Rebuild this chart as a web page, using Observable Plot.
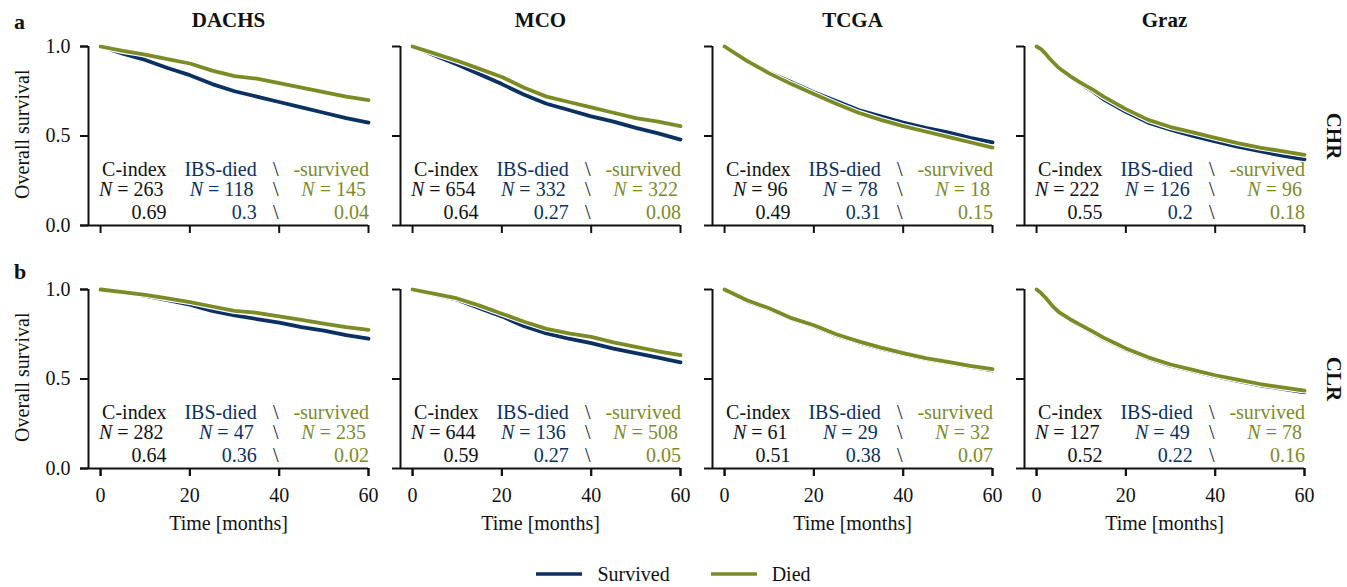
<!DOCTYPE html>
<html><head><meta charset="utf-8">
<script src="https://cdn.jsdelivr.net/npm/d3@7"></script>
<script src="https://cdn.jsdelivr.net/npm/@observablehq/plot@0.6"></script>
<style>
html,body{margin:0;padding:0;background:#fff;}
#wrap{position:relative;width:1347px;height:587px;font-family:'Liberation Serif','Times New Roman',serif;background:#fff;}
#chart svg{font-family:'Liberation Serif','Times New Roman',serif !important;}
#legend{position:absolute;left:0;top:556px;width:1347px;height:36px;display:flex;justify-content:center;align-items:center;font-size:20px;color:#111;}
#legend .sw{width:46px;height:4px;margin-right:15px;}
#legend .lab{margin-right:41px;}
#legend .lab:last-child{margin-right:0;}
</style></head><body><div id="wrap"><div id="chart"></div><div id="legend"></div></div>
<script>
// ---- categories ----
const datasets = ["DACHS", "MCO", "TCGA", "Graz"];
const cohorts = ["CHR", "CLR"];
const groups = ["Survived", "Died"];
const xTicks = [0, 20, 40, 60];
const yTicks = [0, 0.5, 1];

// ---- time points (months) ----
const months = [0, 5, 10, 15, 20, 25, 30, 35, 40, 45, 50, 55, 60];
const monthsGraz = [0, 1, 2, 3, 4, 5, 7.5, 10, 12.5, 15, 17.5, 20, 25, 30, 35, 40, 45, 50, 55, 60];

// ---- survival curves ----
const dachsChrSurvived = [1.0, 0.96, 0.925, 0.88, 0.84, 0.79, 0.75, 0.72, 0.69, 0.66, 0.63, 0.60, 0.575];
const dachsChrDied     = [1.0, 0.975, 0.955, 0.93, 0.905, 0.865, 0.835, 0.82, 0.795, 0.77, 0.745, 0.72, 0.70];
const mcoChrSurvived   = [1.0, 0.95, 0.90, 0.845, 0.79, 0.73, 0.68, 0.645, 0.61, 0.58, 0.545, 0.515, 0.48];
const mcoChrDied       = [1.0, 0.96, 0.92, 0.875, 0.83, 0.77, 0.72, 0.69, 0.66, 0.63, 0.60, 0.58, 0.555];
const tcgaChrSurvived  = [1.0, 0.92, 0.855, 0.80, 0.745, 0.695, 0.645, 0.61, 0.575, 0.545, 0.52, 0.49, 0.465];
const tcgaChrDied      = [1.0, 0.92, 0.85, 0.79, 0.735, 0.68, 0.63, 0.59, 0.555, 0.525, 0.495, 0.465, 0.435];
const grazChrSurvived  = [1.0, 0.985, 0.96, 0.93, 0.90, 0.875, 0.83, 0.79, 0.75, 0.705, 0.67, 0.635, 0.575, 0.535, 0.50, 0.47, 0.44, 0.415, 0.39, 0.37];
const grazChrDied      = [1.0, 0.985, 0.96, 0.93, 0.905, 0.88, 0.835, 0.795, 0.76, 0.72, 0.685, 0.65, 0.59, 0.55, 0.52, 0.49, 0.46, 0.435, 0.415, 0.395];
const dachsClrSurvived = [1.0, 0.985, 0.965, 0.94, 0.915, 0.88, 0.855, 0.835, 0.815, 0.79, 0.77, 0.745, 0.725];
const dachsClrDied     = [1.0, 0.985, 0.97, 0.95, 0.93, 0.905, 0.88, 0.87, 0.85, 0.83, 0.81, 0.79, 0.775];
const mcoClrSurvived   = [1.0, 0.97, 0.943, 0.895, 0.85, 0.795, 0.755, 0.725, 0.70, 0.67, 0.645, 0.62, 0.593];
const mcoClrDied       = [1.0, 0.975, 0.95, 0.91, 0.865, 0.82, 0.78, 0.755, 0.735, 0.705, 0.68, 0.655, 0.633];
const tcgaClrSurvived  = [1.0, 0.935, 0.89, 0.835, 0.795, 0.745, 0.705, 0.67, 0.64, 0.612, 0.59, 0.568, 0.548];
const tcgaClrDied      = [1.0, 0.94, 0.895, 0.84, 0.80, 0.75, 0.71, 0.675, 0.645, 0.617, 0.595, 0.573, 0.555];
const grazClrSurvived  = [1.0, 0.98, 0.955, 0.925, 0.895, 0.87, 0.83, 0.795, 0.76, 0.725, 0.695, 0.665, 0.615, 0.575, 0.545, 0.515, 0.49, 0.465, 0.445, 0.425];
const grazClrDied      = [1.0, 0.98, 0.955, 0.925, 0.897, 0.873, 0.834, 0.80, 0.766, 0.731, 0.701, 0.671, 0.621, 0.581, 0.551, 0.521, 0.497, 0.472, 0.453, 0.435];

// ---- annotation values (per dataset, in order of `datasets`) ----
const nTotalCHR  = [263, 654, 96, 222];
const nDiedCHR   = [118, 332, 78, 126];
const nSurvCHR   = [145, 322, 18, 96];
const cIndexCHR  = [0.69, 0.64, 0.49, 0.55];
const ibsDiedCHR = [0.3, 0.27, 0.31, 0.2];
const ibsSurvCHR = [0.04, 0.08, 0.15, 0.18];
const nTotalCLR  = [282, 644, 61, 127];
const nDiedCLR   = [47, 136, 29, 49];
const nSurvCLR   = [235, 508, 32, 78];
const cIndexCLR  = [0.64, 0.59, 0.51, 0.52];
const ibsDiedCLR = [0.36, 0.27, 0.38, 0.22];
const ibsSurvCLR = [0.02, 0.05, 0.07, 0.16];

const navy = "#0a3161";
const olive = "#7d8b27";
const ink = "#111";
const xMin = -2.7;

// ---- build tables ----
const series = [
  {fx: "DACHS", fy: "CHR", t: months, s: dachsChrSurvived, d: dachsChrDied},
  {fx: "MCO",   fy: "CHR", t: months, s: mcoChrSurvived,   d: mcoChrDied},
  {fx: "TCGA",  fy: "CHR", t: months, s: tcgaChrSurvived,  d: tcgaChrDied},
  {fx: "Graz",  fy: "CHR", t: monthsGraz, s: grazChrSurvived, d: grazChrDied},
  {fx: "DACHS", fy: "CLR", t: months, s: dachsClrSurvived, d: dachsClrDied},
  {fx: "MCO",   fy: "CLR", t: months, s: mcoClrSurvived,   d: mcoClrDied},
  {fx: "TCGA",  fy: "CLR", t: months, s: tcgaClrSurvived,  d: tcgaClrDied},
  {fx: "Graz",  fy: "CLR", t: monthsGraz, s: grazClrSurvived, d: grazClrDied}
];
const curves = series.flatMap(p => p.t.flatMap((m, i) => [
  {fx: p.fx, fy: p.fy, month: m, group: "Survived", value: p.s[i]},
  {fx: p.fx, fy: p.fy, month: m, group: "Died", value: p.d[i]}
]));
const survivedRows = curves.filter(d => d.group === "Survived");
const diedRows = curves.filter(d => d.group === "Died");

const cells = cohorts.flatMap(fy => datasets.map(fx => ({fx, fy})));
const ann = {
  CHR: {nt: nTotalCHR, nd: nDiedCHR, ns: nSurvCHR, ci: cIndexCHR, id: ibsDiedCHR, is: ibsSurvCHR},
  CLR: {nt: nTotalCLR, nd: nDiedCLR, ns: nSurvCLR, ci: cIndexCLR, id: ibsDiedCLR, is: ibsSurvCLR}
};
const colX = [14.78, 34.95, 60.1];
const rowY = [0.3106, 0.1994, 0.0744];
const annEnd = [], annN = [], annSlash = [];
cohorts.forEach(fy => datasets.forEach((fx, j) => {
  const a = ann[fy];
  annEnd.push({fx, fy, x: colX[0], y: rowY[0], text: "C-index", c: ink});
  annEnd.push({fx, fy, x: colX[1], y: rowY[0], text: "IBS-died", c: navy});
  annEnd.push({fx, fy, x: colX[2], y: rowY[0], text: "-survived", c: olive});
  annN.push({fx, fy, x: colX[0], y: rowY[1], text: "N = " + a.nt[j], c: ink});
  annN.push({fx, fy, x: colX[1], y: rowY[1], text: "N = " + a.nd[j], c: navy});
  annN.push({fx, fy, x: colX[2], y: rowY[1], text: "N = " + a.ns[j], c: olive});
  annEnd.push({fx, fy, x: colX[0], y: rowY[2], text: String(a.ci[j]), c: ink});
  annEnd.push({fx, fy, x: colX[1], y: rowY[2], text: String(a.id[j]), c: navy});
  annEnd.push({fx, fy, x: colX[2], y: rowY[2], text: String(a.is[j]), c: olive});
  rowY.forEach(y => annSlash.push({fx, fy, x: 39.25, y, text: "\\"}));
}));

const topCells = cells.filter(d => d.fy === "CHR");
const bottomCells = cells.filter(d => d.fy === "CLR");
const leftCells = cells.filter(d => d.fx === "DACHS");
const rightCells = cells.filter(d => d.fx === "Graz");
const panelLetters = [{fx: "DACHS", fy: "CHR", t: "a", y: 1.136}, {fx: "DACHS", fy: "CLR", t: "b", y: 1.097}];

const chart = Plot.plot({
  width: 1347,
  height: 550,
  marginLeft: 86,
  marginRight: 41,
  marginTop: 45,
  marginBottom: 81,
  style: {fontFamily: "'Liberation Serif','Times New Roman',serif", fontSize: "20px", background: "#fff", color: ink, overflow: "visible"},
  fx: {domain: datasets, paddingInner: 0.102, paddingOuter: 0, axis: null},
  fy: {domain: cohorts, paddingInner: 0.262, paddingOuter: 0, axis: null},
  x: {domain: [xMin, 60]},
  y: {domain: [0, 1]},
  marks: [
    // curves: white halo then colour, survived first
    Plot.line(survivedRows, {fx: "fx", fy: "fy", x: "month", y: "value", stroke: "#fff", strokeWidth: 6, strokeLinejoin: "round"}),
    Plot.line(survivedRows, {fx: "fx", fy: "fy", x: "month", y: "value", stroke: navy, strokeWidth: 3.8, strokeLinejoin: "round"}),
    Plot.line(diedRows, {fx: "fx", fy: "fy", x: "month", y: "value", stroke: "#fff", strokeWidth: 6, strokeLinejoin: "round"}),
    Plot.line(diedRows, {fx: "fx", fy: "fy", x: "month", y: "value", stroke: olive, strokeWidth: 3.8, strokeLinejoin: "round"}),
    // spines
    Plot.ruleX(cells, {fx: "fx", fy: "fy", x: () => xMin, stroke: ink, strokeWidth: 2}),
    Plot.ruleY(cells, {fx: "fx", fy: "fy", y: () => 0, stroke: ink, strokeWidth: 2}),
    // ticks everywhere
    Plot.axisY({ticks: yTicks, tickSize: 8, tickFormat: () => "", label: null, facetAnchor: null, strokeWidth: 2, stroke: ink}),
    Plot.axisX({ticks: xTicks, tickSize: 8, tickFormat: () => "", label: null, facetAnchor: null, strokeWidth: 2, stroke: ink}),
    // labelled axes
    Plot.axisY({ticks: yTicks, tickSize: 8, tickPadding: 10, tickFormat: d3.format(".1f"), label: null, facetAnchor: "left", strokeWidth: 2, stroke: ink, fill: ink}),
    Plot.axisX({ticks: xTicks, tickSize: 8, tickPadding: 11, tickFormat: d => String(d), label: null, facetAnchor: "bottom", strokeWidth: 2, stroke: ink, fill: ink}),
    Plot.text(bottomCells, {fx: "fx", fy: "fy", frameAnchor: "bottom", lineAnchor: "middle", dy: 55, text: () => "Time [months]", fill: ink}),
    Plot.text(leftCells, {fx: "fx", fy: "fy", x: () => -17.4, y: () => 0.51, rotate: -90, text: () => "Overall survival", fill: ink}),
    // titles
    Plot.text(topCells, {fx: "fx", fy: "fy", frameAnchor: "top", lineAnchor: "middle", dy: -26.7, text: d => d.fx, fontWeight: "bold", fontSize: 21, fill: ink}),
    Plot.text(rightCells, {fx: "fx", fy: "fy", x: () => 66.6, y: () => 0.5, rotate: 90, text: d => d.fy, fontWeight: "bold", fontSize: 21, fill: ink}),
    Plot.text(panelLetters, {fx: "fx", fy: "fy", x: () => -19.38, y: "y", text: "t", textAnchor: "start", fontWeight: "bold", fontSize: 22, fill: ink}),
    // annotations
    Plot.text(annEnd, {fx: "fx", fy: "fy", x: "x", y: "y", text: "text", fill: "c", textAnchor: "end"}),
    Plot.text(annN, {fx: "fx", fy: "fy", x: "x", y: "y", text: "text", fill: "c", textAnchor: "end", dx: -3}),
    Plot.text(annSlash, {fx: "fx", fy: "fy", x: "x", y: "y", text: "text", fill: ink, textAnchor: "middle"})
  ]
});

// italic N in the "N = …" labels
const NS = "http://www.w3.org/2000/svg";
chart.querySelectorAll("text").forEach(t => {
  const s = t.textContent;
  if (/^N = /.test(s) && t.children.length === 0) {
    t.textContent = "";
    const a = document.createElementNS(NS, "tspan");
    a.setAttribute("font-style", "italic");
    a.textContent = "N";
    const b = document.createElementNS(NS, "tspan");
    b.textContent = s.slice(1);
    t.appendChild(a); t.appendChild(b);
  }
});
document.getElementById("chart").appendChild(chart);

// legend below the chart
const legend = document.getElementById("legend");
[["Survived", navy], ["Died", olive]].forEach(([label, col]) => {
  const sw = document.createElementNS(NS, "svg");
  sw.setAttribute("class", "sw");
  sw.setAttribute("width", 46); sw.setAttribute("height", 4);
  const ln = document.createElementNS(NS, "line");
  ln.setAttribute("x1", 0); ln.setAttribute("x2", 46); ln.setAttribute("y1", 2); ln.setAttribute("y2", 2);
  ln.setAttribute("stroke", col); ln.setAttribute("stroke-width", 3.6);
  sw.appendChild(ln);
  const lab = document.createElement("span");
  lab.className = "lab"; lab.textContent = label;
  legend.appendChild(sw); legend.appendChild(lab);
});
</script></body></html>
